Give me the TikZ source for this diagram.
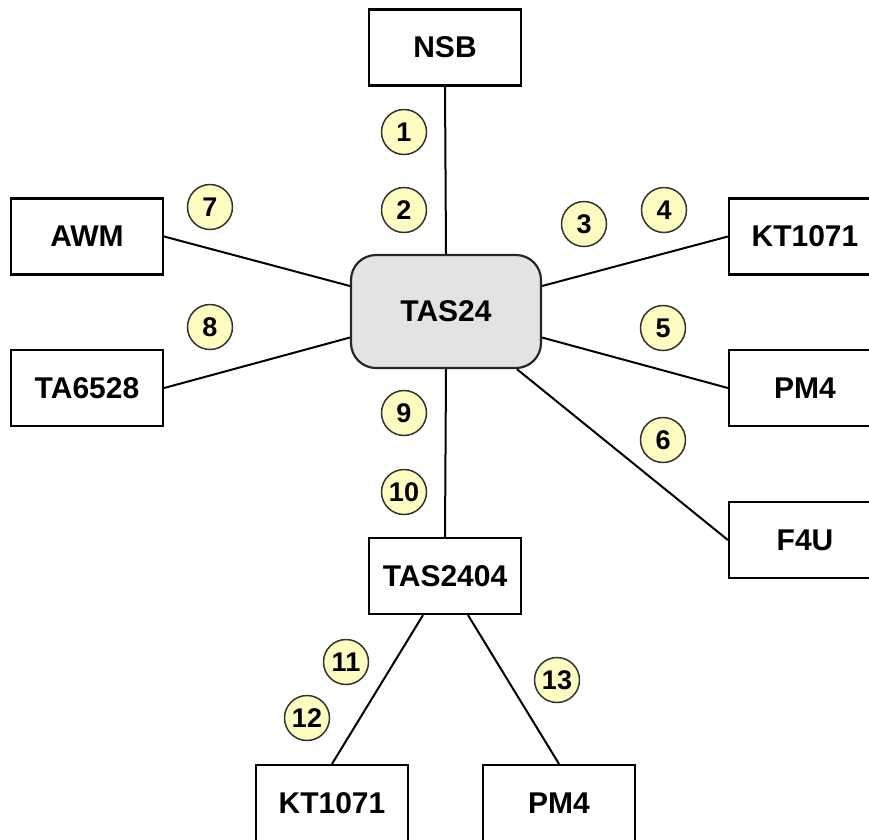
\documentclass[tikz,border=0pt]{standalone}
\usepackage{fontspec}
\setmainfont{Liberation Sans}
\usetikzlibrary{backgrounds}
\begin{document}
\begin{tikzpicture}[x=1pt,y=-1pt,
  box/.style={draw=black, line width=2.2pt, fill=white, minimum width=152pt, minimum height=76pt,
    inner sep=0pt, font=\fontsize{30}{32}\selectfont\bfseries},
  hub/.style={draw=black!85, line width=2.2pt, fill=black!11, rounded corners=25pt,
    minimum width=190pt, minimum height=113pt, inner sep=0pt, font=\fontsize{30}{32}\selectfont\bfseries},
  num/.style={circle, draw=black!80, line width=1.5pt, fill=yellow!25, minimum size=45pt,
    inner sep=0pt, font=\fontsize{27}{29}\selectfont\bfseries},
  link/.style={draw=black, line width=2pt}]
\useasboundingbox (0,0) rectangle (869,839);
% nodes
\node[hub] (tas24) at (446,311.5) {TAS24};
\node[box] (nsb) at (445,47.5) {NSB};
\node[box] (awm) at (87,236.5) {AWM};
\node[box] (ta6528) at (87,388) {TA6528};
\node[box] (kt1) at (805,236.5) {KT1071};
\node[box] (pm1) at (805,388) {PM4};
\node[box] (f4u) at (805,540) {F4U};
\node[box] (tas2404) at (445,576) {TAS2404};
\node[box] (kt2) at (332,803) {KT1071};
\node[box] (pm2) at (559,803) {PM4};
% connectors
\begin{scope}[on background layer]
\draw[link] (nsb.south) -- (tas24.north);
\draw[link] (awm.east) -- (tas24);
\draw[link] (ta6528.east) -- (tas24);
\draw[link] (kt1.west) -- (tas24);
\draw[link] (pm1.west) -- (tas24);
\draw[link] (f4u.west) -- (tas24);
\draw[link] (tas24.south) -- (tas2404.north);
\draw[link] ([xshift=-22pt]tas2404.south) -- (kt2.north);
\draw[link] ([xshift=23pt]tas2404.south) -- (pm2.north);
\end{scope}
% numbers
\node[num] (n1) at (404,132) {1};
\node[num] (n2) at (404,210) {2};
\node[num] (n3) at (584,224) {3};
\node[num] (n4) at (664,210) {4};
\node[num] (n5) at (663,328) {5};
\node[num] (n6) at (663,440) {6};
\node[num] (n7) at (210,207) {7};
\node[num] (n8) at (210,327) {8};
\node[num] (n9) at (404,413) {9};
\node[num] (n10) at (404,492) {10};
\node[num] (n11) at (346,662) {11};
\node[num] (n12) at (307,718) {12};
\node[num] (n13) at (557,680) {13};
\end{tikzpicture}
\end{document}
